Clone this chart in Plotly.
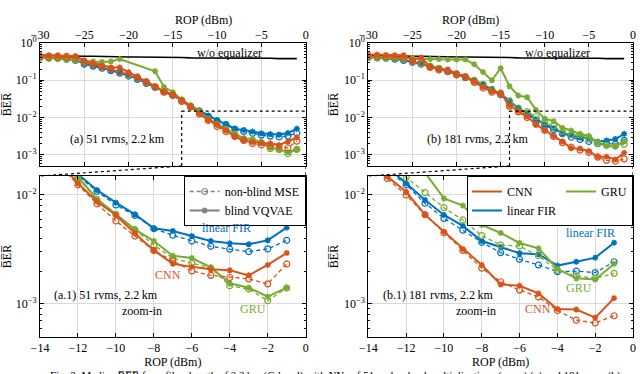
import plotly.graph_objects as go

# received optical power (dBm)
rop = list(range(-30, 0))

# ---- panel (a): 51 rvms, 2.2 km ----
a_cnn_blind = [0.48, 0.47, 0.47, 0.46, 0.45, 0.34, 0.29, 0.25, 0.22, 0.22,
               0.165, 0.128, 0.096, 0.070, 0.050, 0.042, 0.029, 0.020, 0.0128, 0.0087,
               0.00656, 0.00446, 0.0031, 0.00234, 0.00219, 0.00208, 0.00204, 0.00183, 0.00228, 0.00294]
a_cnn_mse = [0.42, 0.42, 0.41, 0.41, 0.40, 0.30, 0.27, 0.23, 0.20, 0.17,
             0.145, 0.118, 0.090, 0.066, 0.048, 0.040, 0.027, 0.019, 0.0124, 0.0083,
             0.00577, 0.0042, 0.0031, 0.00248, 0.00201, 0.00183, 0.00175, 0.0017, 0.00153, 0.00233]
a_fir_blind = [0.42, 0.41, 0.40, 0.38, 0.35, 0.28, 0.25, 0.22, 0.186, 0.161,
               0.136, 0.111, 0.085, 0.066, 0.051, 0.040, 0.030, 0.021, 0.0155, 0.0111,
               0.0085, 0.00665, 0.00494, 0.00467, 0.0042, 0.00378, 0.0036, 0.00353, 0.00384, 0.00501]
a_fir_mse = [0.41, 0.40, 0.39, 0.37, 0.34, 0.27, 0.24, 0.21, 0.18, 0.155,
             0.13, 0.106, 0.082, 0.064, 0.05, 0.039, 0.029, 0.020, 0.015, 0.0108,
             0.0081, 0.0065, 0.0049, 0.00427, 0.00378, 0.00338, 0.00318, 0.00302, 0.0032, 0.00384]
a_gru_blind = [0.40, 0.40, 0.39, 0.38, 0.35, 0.33, 0.32, 0.31, 0.32, 0.37,
               None, None, None, 0.175, 0.066, 0.048, 0.030, 0.021, 0.0147, 0.0092,
               0.0067, 0.00484, 0.00378, 0.00277, 0.00264, 0.00217, 0.00155, 0.00141, 0.00117, 0.00141]
a_gru_mse = [0.40, 0.39, 0.39, 0.37, 0.35, 0.31, 0.27, 0.23, 0.20, 0.17,
             0.14, 0.115, 0.088, 0.067, 0.05, 0.041, 0.029, 0.02, 0.0143, 0.009,
             0.0066, 0.0048, 0.00347, 0.00263, 0.00236, 0.00213, 0.00147, 0.00137, 0.00107, 0.0014]

# ---- panel (b): 181 rvms, 2.2 km ----
b_cnn_blind = [0.49, 0.49, 0.48, 0.47, 0.47, 0.35, 0.41, 0.23, 0.20, 0.195,
               0.15, 0.13, 0.094, 0.066, 0.051, 0.046, 0.021, 0.0148, 0.0107, 0.00656,
               0.00461, 0.00318, 0.00228, 0.00151, 0.00147, 0.00125, 0.0009, 0.00089, 0.00075, 0.00113]
b_cnn_mse = [0.44, 0.44, 0.43, 0.42, 0.40, 0.33, 0.30, 0.22, 0.19, 0.17,
             0.14, 0.12, 0.088, 0.062, 0.048, 0.042, 0.020, 0.0142, 0.0100, 0.0066,
             0.0045, 0.0031, 0.00213, 0.0016, 0.00134, 0.00116, 0.00087, 0.00071, 0.00067, 0.00078]
b_fir_blind = [0.42, 0.41, 0.40, 0.38, 0.35, 0.31, 0.28, 0.24, 0.21, 0.18,
               0.15, 0.123, 0.10, 0.078, 0.056, 0.043, 0.028, 0.018, 0.0128, 0.009,
               0.00656, 0.0052, 0.00378, 0.00333, 0.00292, 0.00286, 0.00225, 0.00244, 0.00266, 0.00365]
b_fir_mse = [0.41, 0.40, 0.39, 0.37, 0.34, 0.30, 0.27, 0.23, 0.20, 0.17,
             0.145, 0.118, 0.096, 0.075, 0.054, 0.041, 0.026, 0.017, 0.0124, 0.0084,
             0.0061, 0.00475, 0.00368, 0.00296, 0.00257, 0.00228, 0.00198, 0.002, 0.00194, 0.00244]
b_gru_blind = [0.42, 0.42, 0.41, 0.40, 0.40, 0.39, 0.38, 0.37, 0.37, 0.36,
               0.36, 0.36, 0.27, 0.168, 0.10, 0.21, 0.069, 0.039, 0.035, 0.016,
               0.0093, 0.008, 0.0053, 0.00448, 0.00363, 0.00324, 0.0021, 0.00172, 0.00168, 0.00233]
b_gru_mse = [0.41, 0.41, 0.40, 0.39, 0.37, 0.31, 0.28, 0.24, 0.21, 0.18,
             0.15, 0.123, 0.10, 0.078, 0.057, 0.045, 0.028, 0.018, 0.0145, 0.0105,
             0.00765, 0.0059, 0.00424, 0.00347, 0.0034, 0.00277, 0.00204, 0.00181, 0.00172, 0.00191]

# without equalizer (same for both)
no_eq = [0.47, 0.46, 0.46, 0.45, 0.45, 0.44, 0.44, 0.43, 0.43, 0.43,
         0.42, 0.42, 0.42, 0.41, 0.41, 0.41, 0.41, 0.40, 0.40, 0.40,
         0.40, 0.40, 0.39, 0.39, 0.39, 0.39, 0.39, 0.38, 0.38, 0.38]

x_ticks_full = [-30, -25, -20, -15, -10, -5, 0]
x_ticks_zoom = [-14, -12, -10, -8, -6, -4, -2, 0]
y_vals_full = [1, 0.1, 0.01, 0.001]
y_text_full = ["10<sup>0</sup>", "10<sup>−1</sup>", "10<sup>−2</sup>", "10<sup>−3</sup>"]
y_vals_zoom = [0.01, 0.001]
y_text_zoom = ["10<sup>−2</sup>", "10<sup>−3</sup>"]

CNN = "#D95319"
FIR = "#0072BD"
GRU = "#77AC30"
GRAY = "#808080"

dom_left = [0, 0.448]
dom_right = [0.5537, 1]
dom_top = [0.5816, 1]
dom_bot = [0, 0.5476]
full_range = [-3.3, 0]
zoom_range = [-3.303, -1.826]
zoom_top = 10 ** zoom_range[1]

ber_title = "B\u0305E\u0305R\u0305"

fig = go.Figure()

panels = [
    ("x", "y", "x3", "y3", a_fir_mse, a_fir_blind, a_gru_mse, a_gru_blind, a_cnn_mse, a_cnn_blind),
    ("x2", "y2", "x4", "y4", b_fir_mse, b_fir_blind, b_gru_mse, b_gru_blind, b_cnn_mse, b_cnn_blind),
]

for xt, yt, xz, yz, fir_m, fir_b, gru_m, gru_b, cnn_m, cnn_b in panels:
    fig.add_trace(go.Scatter(x=rop, y=no_eq, mode="lines", line=dict(color="black", width=1.6),
                             xaxis=xt, yaxis=yt, showlegend=False))
    for xa, ya in [(xt, yt), (xz, yz)]:
        for col, ym, yb in [(FIR, fir_m, fir_b), (GRU, gru_m, gru_b), (CNN, cnn_m, cnn_b)]:
            fig.add_trace(go.Scatter(
                x=rop, y=ym, mode="lines+markers", connectgaps=True,
                line=dict(color=col, width=1.3, dash="4px,3px"),
                marker=dict(symbol="circle-open", size=6, color=col, line=dict(width=1.2, color=col)),
                xaxis=xa, yaxis=ya, showlegend=False))
            fig.add_trace(go.Scatter(
                x=rop, y=yb, mode="lines+markers", connectgaps=True,
                line=dict(color=col, width=2),
                marker=dict(symbol="asterisk-open", size=5, color=col, line=dict(width=1.5, color=col)),
                xaxis=xa, yaxis=ya, showlegend=False))

# legend entries
fig.add_trace(go.Scatter(x=[None], y=[None], mode="lines+markers", name="non-blind MSE",
                         line=dict(color=GRAY, width=1.3, dash="4px,3px"),
                         marker=dict(symbol="circle-open", size=6, color=GRAY, line=dict(width=1.2, color=GRAY)),
                         xaxis="x3", yaxis="y3", legend="legend"))
fig.add_trace(go.Scatter(x=[None], y=[None], mode="lines+markers", name="blind VQVAE",
                         line=dict(color=GRAY, width=2),
                         marker=dict(symbol="asterisk-open", size=5, color=GRAY, line=dict(width=1.5, color=GRAY)),
                         xaxis="x3", yaxis="y3", legend="legend"))
for name, col, grp in [("CNN", CNN, "g1"), ("linear FIR", FIR, "g1"), ("GRU", GRU, "g2")]:
    fig.add_trace(go.Scatter(x=[None], y=[None], mode="lines", name=name, legendgroup=grp,
                             line=dict(color=col, width=2), xaxis="x4", yaxis="y4", legend="legend2"))

axis_style = dict(showline=True, linecolor="black", linewidth=1, mirror="allticks",
                  ticks="inside", ticklen=4, tickcolor="black", showgrid=True,
                  gridcolor="#dadada", gridwidth=1.3, zeroline=False,
                  tickfont=dict(size=12, color="black"))
minor_style = dict(ticks="inside", ticklen=2, tickcolor="black", dtick="D1", showgrid=False)

layout = dict(
    width=640, height=374,
    margin=dict(l=40, r=4, t=43, b=37),
    paper_bgcolor="white", plot_bgcolor="white",
    font=dict(family="Liberation Serif", size=12, color="black"),
    legend=dict(x=dom_left[1], xanchor="right", y=dom_bot[1], yanchor="top",
                bordercolor="black", borderwidth=1, bgcolor="white",
                font=dict(size=12), tracegroupgap=0),
    legend2=dict(x=dom_right[1], xanchor="right", y=dom_bot[1], yanchor="top",
                 orientation="h", traceorder="grouped",
                 bordercolor="black", borderwidth=1, bgcolor="white",
                 font=dict(size=12), tracegroupgap=0),
)
for i, (dx, dy, xa, ya) in enumerate([(dom_left, dom_top, "x", "y"), (dom_right, dom_top, "x2", "y2"),
                                      (dom_left, dom_bot, "x3", "y3"), (dom_right, dom_bot, "x4", "y4")]):
    k = "" if i == 0 else str(i + 1)
    top = i < 2
    xax = dict(axis_style, domain=dx, anchor=ya,
               range=[-30, 0] if top else [-14, 0],
               tickvals=x_ticks_full if top else x_ticks_zoom,
               side="top" if top else "bottom")
    if top:
        xax["ticklabelstandoff"] = -2
    else:
        xax["title"] = dict(text="ROP (dBm)", font=dict(size=12), standoff=0)
    layout["xaxis" + k] = xax
    layout["yaxis" + k] = dict(axis_style, domain=dy, anchor=xa, type="log",
                               range=full_range if top else zoom_range,
                               tickvals=y_vals_full if top else y_vals_zoom,
                               ticktext=y_text_full if top else y_text_zoom,
                               minor=minor_style,
                               title=dict(text=ber_title, font=dict(size=12), standoff=2))
fig.update_layout(**layout)

# top x-axis titles
for dx in [dom_left, dom_right]:
    fig.add_annotation(x=(dx[0] + dx[1]) / 2, y=1.078, xref="paper", yref="paper", yanchor="middle",
                       text="ROP (dBm)", showarrow=False, font=dict(size=12))

# zoom window markers
dot = dict(color="black", width=1.2, dash="dot")
zoom_frac = (zoom_range[1] - full_range[0]) / (full_range[1] - full_range[0])
for xt, yt in [("x", "y"), ("x2", "y2")]:
    fig.add_shape(type="line", xref=xt, yref=yt, x0=-14, x1=0, y0=zoom_top, y1=zoom_top, line=dot)
    fig.add_shape(type="line", xref=xt, yref=yt + " domain", x0=-14, x1=-14, y0=0, y1=zoom_frac, line=dot)
    fig.add_shape(type="line", xref=xt, yref="paper", x0=-14, x1=-30, y0=dom_top[0], y1=dom_bot[1], line=dot)
    fig.add_shape(type="line", xref=xt, yref="paper", x0=0, x1=0, y0=dom_top[0], y1=dom_bot[1], line=dot)

ann = [
    ("x", "y", -21.3, -2.57, "(a) 51 rvms, 2.2\u2009km", "black"),
    ("x2", "y2", -17.6, -2.57, "(b) 181 rvms, 2.2\u2009km", "black"),
    ("x", "y", -8.6, -0.26, "w/o equalizer", "black"),
    ("x2", "y2", -8.6, -0.26, "w/o equalizer", "black"),
    ("x3", "y3", -10.5, -2.917, "(a.1) 51 rvms, 2.2\u2009km", "black"),
    ("x3", "y3", -8.63, -3.064, "zoom-in", "black"),
    ("x4", "y4", -10.3, -2.917, "(b.1) 181 rvms, 2.2\u2009km", "black"),
    ("x4", "y4", -8.32, -3.064, "zoom-in", "black"),
    ("x3", "y3", -4.16, -2.30, "linear FIR", FIR),
    ("x3", "y3", -7.26, -2.73, "CNN", CNN),
    ("x3", "y3", -2.8, -3.05, "GRU", GRU),
    ("x4", "y4", -2.26, -2.35, "linear FIR", FIR),
    ("x4", "y4", -2.84, -2.85, "GRU", GRU),
    ("x4", "y4", -5.05, -3.05, "CNN", CNN),
]
for xa, ya, xx, yy, txt, col in ann:
    fig.add_annotation(x=xx, y=yy, xref=xa, yref=ya, text=txt, showarrow=False,
                       font=dict(size=12, color=col))

fig.add_annotation(x=0.5, y=-0.13, xref="paper", yref="paper", yanchor="middle", showarrow=False,
                   text="Fig. 3: Median " + ber_title + " for a fiber length of 2.2\u2009km (C-band) with NNs of 51 real-valued multiplications (rvms) (a) and 181 rvms (b).",
                   font=dict(size=11, color="black"))

fig.write_html("out.html", config={"displayModeBar": False},
               post_script="document.body.style.margin='0';document.body.style.overflow='hidden';")
